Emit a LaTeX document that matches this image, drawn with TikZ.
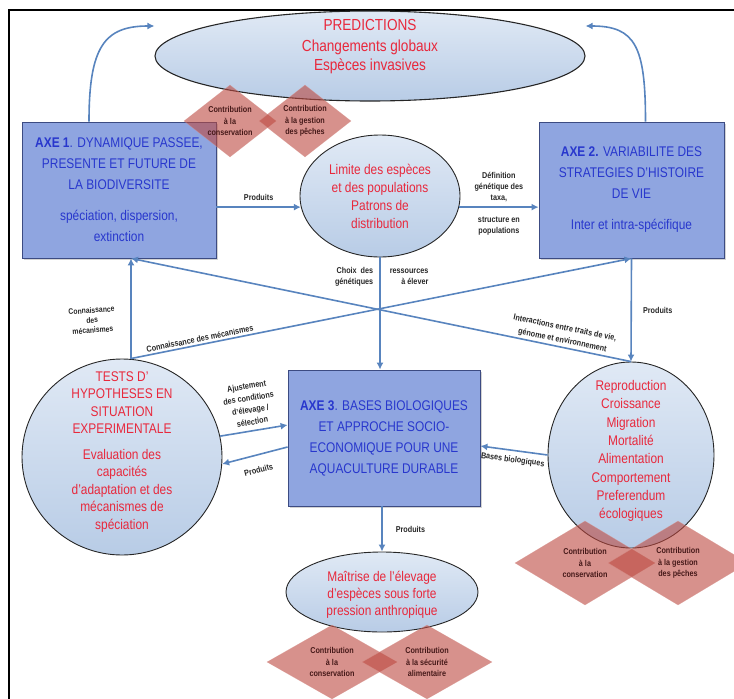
\documentclass[tikz,border=0pt]{standalone}
\usepackage{fontspec}
\setmainfont{Liberation Sans}[FakeStretch=0.85]
\usetikzlibrary{arrows.meta, calc, positioning, shapes.geometric, shadows}

\definecolor{boxblue}{RGB}{143,165,224}
\definecolor{boxedge}{RGB}{60,75,130}
\definecolor{axeblue}{RGB}{40,55,205}
\definecolor{predred}{RGB}{232,40,60}
\definecolor{flowblue}{RGB}{88,132,190}
\definecolor{ovaltop}{RGB}{224,233,245}
\definecolor{ovalbot}{RGB}{184,204,230}
\definecolor{rosefill}{RGB}{188,72,63}
\definecolor{rosetext}{RGB}{70,25,25}

\begin{document}
\begin{tikzpicture}[x=1pt, y=-1pt, >={Latex[length=7pt,width=7pt]},
  axebox/.style={draw=boxedge, fill=boxblue, line width=0.8pt, inner sep=0pt,
        align=center, text=axeblue, font=\fontsize{14}{21}\selectfont,
        drop shadow={shadow xshift=2pt, shadow yshift=-2pt, opacity=0.35}},
  oval/.style={ellipse, draw=black!85, line width=0.9pt, inner sep=0pt,
        top color=ovaltop, bottom color=ovalbot},
  ovaltext/.style={align=center, text=predred, inner sep=0pt,
        font=\fontsize{14}{18}\selectfont},
  contrib/.style={diamond, aspect=1.3, inner sep=0pt, fill=rosefill,
        fill opacity=0.6, text opacity=1, draw=rosefill!60, draw opacity=0.5,
        line width=0.5pt, align=center, text=rosetext,
        font=\bfseries\fontsize{8.5}{11.5}\selectfont},
  flow/.style={->, draw=flowblue, line width=1.6pt},
  flowlabel/.style={font=\bfseries\fontsize{8.5}{11}\selectfont,
        text=black!85, align=center, inner sep=1pt}
]
  \useasboundingbox (0,0) rectangle (734,699);
  % frame
  \draw[line width=1.6pt] (9,699) -- (9,10) -- (734,10);

  % Oval nodes
  \node[oval, line width=1.1pt, minimum width=430pt, minimum height=90pt] (pred) at (370,56) {};
  \node[ovaltext, font=\fontsize{16}{19}\selectfont] at (370,47)
    {PREDICTIONS\\[2pt]Changements globaux\\Espèces invasives};

  \node[oval, minimum width=160pt, minimum height=122pt] (limit) at (380,196) {};
  \node[ovaltext] at (limit.center) {Limite des espèces\\et des populations\\Patrons de\\distribution};

  \node[oval, minimum width=200pt, minimum height=196pt] (tests) at (122,457) {};
  \node[ovaltext, font=\fontsize{14}{17.5}\selectfont] at (122,452)
    {TESTS D'\\HYPOTHESES EN\\SITUATION\\EXPERIMENTALE\\[8pt]Evaluation des\\capacités\\d'adaptation et des\\mécanismes de\\spéciation};

  \node[oval, minimum width=166pt, minimum height=186pt] (rep) at (631,455) {};
  \node[ovaltext, font=\fontsize{14}{18.3}\selectfont] at (631,451)
    {Reproduction\\Croissance\\Migration\\Mortalité\\Alimentation\\Comportement\\Preferendum\\écologiques};

  \node[oval, minimum width=192pt, minimum height=80pt] (maitrise) at (382,592) {};
  \node[ovaltext, font=\fontsize{14}{17}\selectfont] at (382,595)
    {Maîtrise de l'élevage\\d'espèces sous forte\\pression anthropique};

  % Axis boxes
  \node[axebox, minimum width=194pt, minimum height=136pt] (ax1) at (119,190)
    {\textbf{AXE 1}. DYNAMIQUE PASSEE,\\PRESENTE ET FUTURE DE\\LA BIODIVERSITE\\[10pt]spéciation, dispersion,\\extinction};
  \node[axebox, minimum width=185pt, minimum height=136pt] (ax2) at (631.5,190)
    {\textbf{AXE 2.} VARIABILITE DES\\STRATEGIES D'HISTOIRE\\DE VIE\\[10pt]Inter et intra-spécifique};
  \node[axebox, minimum width=192pt, minimum height=136pt] (ax3) at (384,438)
    {\textbf{AXE 3}. BASES BIOLOGIQUES\\ET APPROCHE SOCIO-\\ECONOMIQUE POUR UNE\\AQUACULTURE DURABLE};

  % Contribution diamonds
  \node[contrib, minimum width=92pt, minimum height=72pt] (topcons) at (230,121)
    {Contribution\\à la\\conservation};
  \node[contrib, minimum width=92pt, minimum height=72pt] (toppeche) at (305,121)
    {Contribution\\à la gestion\\des pêches};
  \node[contrib, minimum width=140pt, minimum height=84pt] (repcons) at (585,563)
    {Contribution\\à la\\conservation};
  \node[contrib, minimum width=140pt, minimum height=84pt] (reppeche) at (678,563)
    {Contribution\\à la gestion\\des pêches};
  \node[contrib, minimum width=130pt, minimum height=74pt] (botcons) at (332,662)
    {Contribution\\à la\\conservation};
  \node[contrib, minimum width=130pt, minimum height=74pt] (botsecu) at (427,662)
    {Contribution\\à la sécurité\\alimentaire};

  % Arcs to predictions
  \draw[flow] ([xshift=-30pt]ax1.north) .. controls +(0,-75) and +(-50,0) .. ([yshift=30pt]pred.west);
  \draw[flow] ([xshift=14pt]ax2.north) .. controls +(0,-75) and +(50,0) .. ([yshift=30pt]pred.east);

  % Middle row
  \draw[flow] (ax1.east |- limit.188) -- (limit.188)
    node[flowlabel, midway, above=5pt] {Produits};
  \draw[flow] (limit.352) -- (limit.352 -| ax2.west)
    node[flowlabel, midway, above=4pt] {Définition\\génétique des\\taxa,}
    node[flowlabel, midway, below=8pt] {structure en\\populations};

  % Limite -> Axe 3
  \draw[flow] (limit.south) -- (limit.south |- ax3.north)
    node[flowlabel, pos=0.17, left=5pt, align=right] {Choix~~des\\génétiques}
    node[flowlabel, pos=0.17, right=8pt, align=right] {ressources\\à élever};

  % Crossing links
  \coordinate (ax1foot) at ([xshift=12pt]ax1.south);
  \coordinate (testtop) at (tests.north -| ax1foot);
  \draw[flow] (testtop) -- (ax1foot)
    node[flowlabel, pos=0.4, left=14pt, font=\bfseries\fontsize{8}{10}\selectfont, rotate=4]
    {Connaissance\\des\\mécanismes};
  \draw[flow] (testtop) -- (ax2.south)
    node[flowlabel, pos=0.14, above=1pt, sloped] {Connaissance des mécanismes};
  \draw[flow] (rep.north) -- (ax1foot)
    node[flowlabel, pos=0.14, above=1pt, sloped, font=\bfseries\fontsize{8.5}{12.5}\selectfont]
    {Interactions entre traits de vie,\\génome et environnement};
  \draw[flow] (ax2.south) -- (rep.north)
    node[flowlabel, midway, right=10pt] {Produits};

  % Axe 3 links
  \draw[flow] (tests.12) -- ([yshift=13pt]ax3.west)
    node[flowlabel, midway, above=4pt, sloped, font=\bfseries\fontsize{8.5}{12}\selectfont]
    {Ajustement\\des conditions\\d'élevage /\\sélection};
  \draw[flow] ([yshift=-9pt]ax3.west) -- (tests.-4)
    node[flowlabel, midway, below=10pt, sloped] {Produits};
  \draw[flow] (rep.west) -- ([yshift=-8pt]ax3.east)
    node[flowlabel, midway, below=4pt, sloped] {Bases biologiques};
  \draw[flow] (ax3.south -| maitrise.north) -- (maitrise.north)
    node[flowlabel, midway, right=12pt] {Produits};
\end{tikzpicture}
\end{document}
